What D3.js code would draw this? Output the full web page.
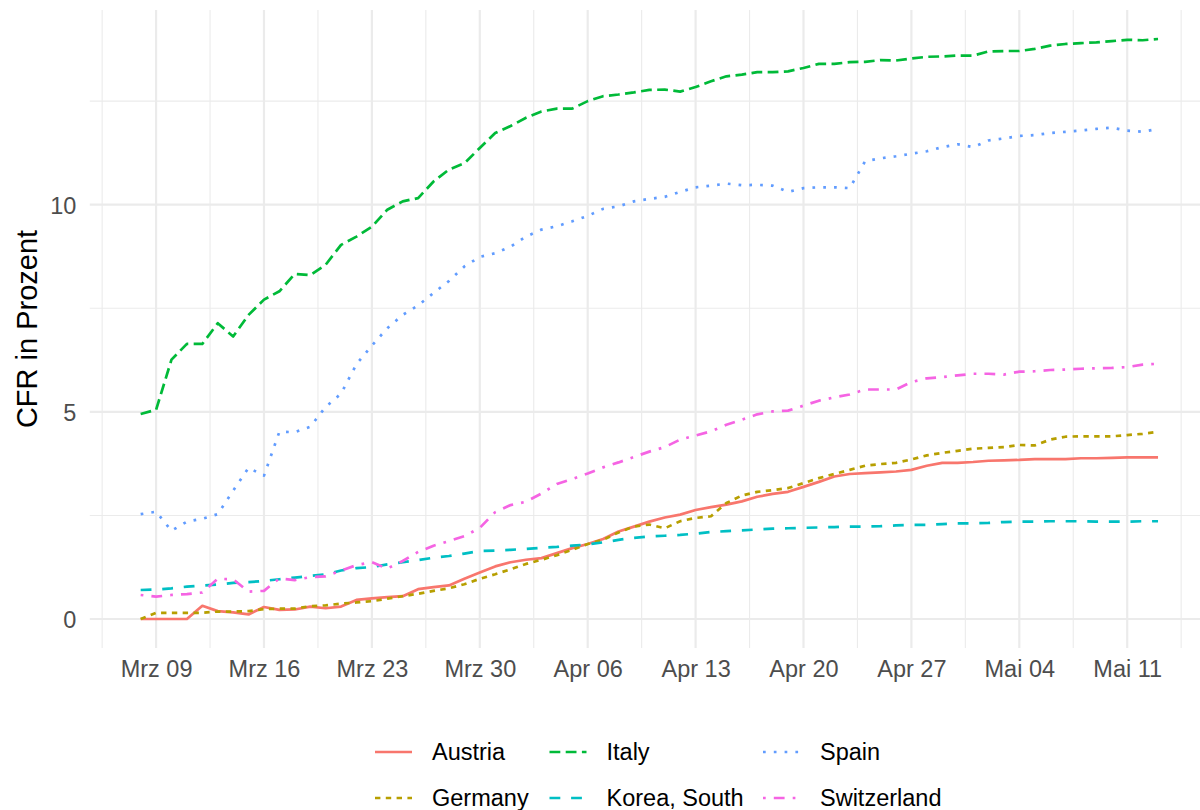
<!DOCTYPE html>
<html>
<head>
<meta charset="utf-8">
<script src="https://cdn.jsdelivr.net/npm/d3@7"></script>
<style>
  html, body { margin: 0; padding: 0; background: #fff; }
  svg { display: block; font-family: "Liberation Sans", Arial, Helvetica, sans-serif; }
</style>
</head>
<body>
<svg id="chart" width="1200" height="810"></svg>
<script>
// ---------- data ----------
const startDate = "2020-03-08";
const endDate = "2020-05-13";
const countries = ["Austria", "Germany", "Italy", "Korea, South", "Spain", "Switzerland"];
const colors = ["#F8766D", "#B79F00", "#00BA38", "#00BFC4", "#619CFF", "#F564E3"];

const austria = [0,0,0,0,0.32,0.19,0.16,0.11,0.29,0.22,0.23,0.30,0.26,0.30,0.46,0.50,0.53,0.55,0.72,0.77,0.81,0.97,1.12,1.27,1.37,1.43,1.47,1.59,1.71,1.81,1.93,2.11,2.23,2.35,2.45,2.52,2.63,2.70,2.76,2.84,2.95,3.02,3.07,3.19,3.31,3.44,3.50,3.52,3.54,3.56,3.60,3.70,3.77,3.77,3.79,3.82,3.83,3.84,3.86,3.86,3.86,3.88,3.88,3.89,3.90,3.90,3.90];
const germany = [0,0.15,0.15,0.15,0.15,0.18,0.18,0.19,0.24,0.25,0.25,0.31,0.33,0.37,0.40,0.43,0.49,0.55,0.61,0.68,0.74,0.84,0.97,1.08,1.20,1.33,1.43,1.54,1.67,1.81,1.91,2.09,2.23,2.28,2.19,2.36,2.44,2.48,2.80,2.98,3.07,3.11,3.16,3.28,3.40,3.50,3.60,3.70,3.74,3.77,3.85,3.95,4.01,4.06,4.11,4.13,4.15,4.20,4.19,4.33,4.40,4.41,4.41,4.41,4.44,4.47,4.52];
const italy = [4.95,5.05,6.26,6.64,6.64,7.14,6.82,7.34,7.71,7.91,8.33,8.30,8.55,9.03,9.23,9.47,9.88,10.08,10.16,10.56,10.85,11.00,11.37,11.73,11.90,12.10,12.25,12.32,12.32,12.50,12.62,12.66,12.71,12.77,12.78,12.73,12.84,12.98,13.10,13.14,13.20,13.20,13.22,13.30,13.40,13.40,13.44,13.45,13.49,13.48,13.53,13.57,13.58,13.60,13.60,13.70,13.71,13.71,13.76,13.84,13.88,13.90,13.92,13.95,13.98,13.97,14.00];
const korea = [0.70,0.71,0.74,0.78,0.81,0.83,0.87,0.89,0.92,0.96,1.00,1.04,1.08,1.17,1.23,1.25,1.32,1.37,1.42,1.48,1.52,1.58,1.64,1.65,1.67,1.69,1.72,1.74,1.77,1.80,1.85,1.91,1.96,1.99,2.01,2.03,2.06,2.10,2.12,2.14,2.16,2.18,2.19,2.20,2.21,2.22,2.23,2.23,2.24,2.26,2.27,2.27,2.29,2.31,2.31,2.32,2.34,2.35,2.35,2.36,2.36,2.36,2.35,2.35,2.35,2.36,2.36];
const spain = [2.53,2.59,2.13,2.35,2.42,2.53,3.10,3.65,3.46,4.52,4.51,4.64,5.12,5.44,6.15,6.60,7.02,7.34,7.57,7.87,8.16,8.51,8.74,8.83,8.99,9.23,9.40,9.48,9.60,9.73,9.90,9.96,10.08,10.14,10.19,10.31,10.42,10.46,10.51,10.47,10.48,10.46,10.31,10.40,10.42,10.42,10.40,11.05,11.12,11.17,11.23,11.29,11.39,11.46,11.39,11.55,11.60,11.66,11.68,11.73,11.76,11.79,11.83,11.86,11.79,11.76,11.83];
const switzerland = [0.58,0.54,0.58,0.60,0.64,0.97,0.96,0.66,0.68,0.98,0.94,1.01,1.03,1.17,1.30,1.37,1.22,1.40,1.62,1.77,1.88,2.00,2.20,2.58,2.75,2.83,3.03,3.26,3.38,3.51,3.66,3.78,3.91,4.04,4.15,4.33,4.43,4.53,4.69,4.81,4.94,5.01,5.03,5.15,5.27,5.35,5.42,5.54,5.54,5.54,5.72,5.81,5.84,5.88,5.92,5.92,5.90,5.97,5.98,6.01,6.02,6.04,6.05,6.06,6.08,6.14,6.16];

const yBreaks = [0, 5, 10];
const yLabels = ["0", "5", "10"];
const yMinorBreaks = [2.5, 7.5, 12.5];
const xBreaks = ["2020-03-09","2020-03-16","2020-03-23","2020-03-30","2020-04-06","2020-04-13","2020-04-20","2020-04-27","2020-05-04","2020-05-11"];
const xLabels = ["Mrz 09","Mrz 16","Mrz 23","Mrz 30","Apr 06","Apr 13","Apr 20","Apr 27","Mai 04","Mai 11"];
const yTitle = "CFR in Prozent";

// ---------- setup ----------
const seriesValues = [austria, germany, italy, korea, spain, switzerland];
const parse = d3.utcParse("%Y-%m-%d");
const t0 = parse(startDate), t1 = parse(endDate);
const dates = d3.utcDay.range(t0, d3.utcDay.offset(t1, 1));

const W = 1200, H = 810;
const panel = { left: 89.8, right: 1208.9, top: 10, bottom: 648 };
const svg = d3.select("#chart");

const padT = 0.05 * (t1 - t0);
const x = d3.scaleUtc()
  .domain([new Date(+t0 - padT), new Date(+t1 + padT)])
  .range([panel.left, panel.right]);
const yMax = d3.max(seriesValues.flat()), yMin = 0;
const padY = 0.05 * (yMax - yMin);
const y = d3.scaleLinear().domain([yMin - padY, yMax + padY]).range([panel.bottom, panel.top]);

const grid = svg.append("g");
const xMajor = xBreaks.map(parse);
const week = 7 * 864e5;
const xMinor = [new Date(+xMajor[0] - week / 2)]
  .concat(xMajor.map(d => new Date(+d + week / 2)));

grid.selectAll("line.ymin").data(yMinorBreaks).join("line")
  .attr("x1", panel.left).attr("x2", W)
  .attr("y1", d => y(d)).attr("y2", d => y(d))
  .attr("stroke", "#EBEBEB").attr("stroke-width", 1.1);
grid.selectAll("line.xmin").data(xMinor.filter(d => x(d) >= panel.left && x(d) <= W)).join("line")
  .attr("y1", panel.top).attr("y2", panel.bottom)
  .attr("x1", d => x(d)).attr("x2", d => x(d))
  .attr("stroke", "#EBEBEB").attr("stroke-width", 1.1);
grid.selectAll("line.ymaj").data(yBreaks).join("line")
  .attr("x1", panel.left).attr("x2", W)
  .attr("y1", d => y(d)).attr("y2", d => y(d))
  .attr("stroke", "#EBEBEB").attr("stroke-width", 2.2);
grid.selectAll("line.xmaj").data(xMajor).join("line")
  .attr("y1", panel.top).attr("y2", panel.bottom)
  .attr("x1", d => x(d)).attr("x2", d => x(d))
  .attr("stroke", "#EBEBEB").attr("stroke-width", 2.2);

// ---------- lines ----------
const u = 2.7;
const dashes = ["", `${2*u} ${2*u}`, `${4*u} ${2*u}`, `${4*u} ${4*u}`, `${1*u} ${3*u}`, `${1*u} ${3*u} ${4*u} ${3*u}`];
const line = d3.line().x((d, i) => x(dates[i])).y(d => y(d));

const lines = svg.append("g");
seriesValues.forEach((vals, k) => {
  lines.append("path")
    .attr("d", line(vals))
    .attr("fill", "none")
    .attr("stroke", colors[k])
    .attr("stroke-width", u)
    .attr("stroke-dasharray", dashes[k] || null)
    .attr("stroke-linejoin", "round")
    .attr("stroke-linecap", "butt");
});

// ---------- axes ----------
const axisY = d3.axisLeft(y).tickValues(yBreaks).tickFormat((d, i) => yLabels[i]).tickSize(0).tickPadding(0);
const gy = svg.append("g").attr("transform", `translate(${panel.left - 13.5},0)`).call(axisY);
gy.select(".domain").remove();
gy.selectAll("text").attr("font-size", 23.5).attr("fill", "#4D4D4D")
  .attr("font-family", "Liberation Sans, Arial, sans-serif").attr("dy", "0.36em");

const axisX = d3.axisBottom(x).tickValues(xMajor).tickFormat((d, i) => xLabels[i]).tickSize(0).tickPadding(0);
const gx = svg.append("g").attr("transform", `translate(0,${panel.bottom + 12})`).call(axisX);
gx.select(".domain").remove();
gx.selectAll("text").attr("font-size", 23.5).attr("fill", "#4D4D4D")
  .attr("font-family", "Liberation Sans, Arial, sans-serif").attr("dy", "0.71em");

svg.append("text")
  .attr("transform", `translate(36.5,${(panel.top + panel.bottom) / 2}) rotate(-90)`)
  .attr("text-anchor", "middle")
  .attr("font-size", 29)
  .attr("fill", "#000")
  .text(yTitle);

// ---------- legend ----------
const legendCols = [375, 549.5, 763];
const legendRows = [752, 798];
const keyW = 37, textGap = 20;
const leg = svg.append("g");
countries.forEach((name, k) => {
  const col = Math.floor(k / 2), row = k % 2;
  const kx = legendCols[col], ky = legendRows[row];
  leg.append("line")
    .attr("x1", kx).attr("x2", kx + keyW).attr("y1", ky).attr("y2", ky)
    .attr("stroke", colors[k]).attr("stroke-width", u)
    .attr("stroke-dasharray", dashes[k] || null);
  leg.append("text")
    .attr("x", kx + keyW + textGap).attr("y", ky).attr("dy", "0.36em")
    .attr("font-size", 23.5).attr("fill", "#000")
    .text(name);
});
</script>
</body>
</html>
